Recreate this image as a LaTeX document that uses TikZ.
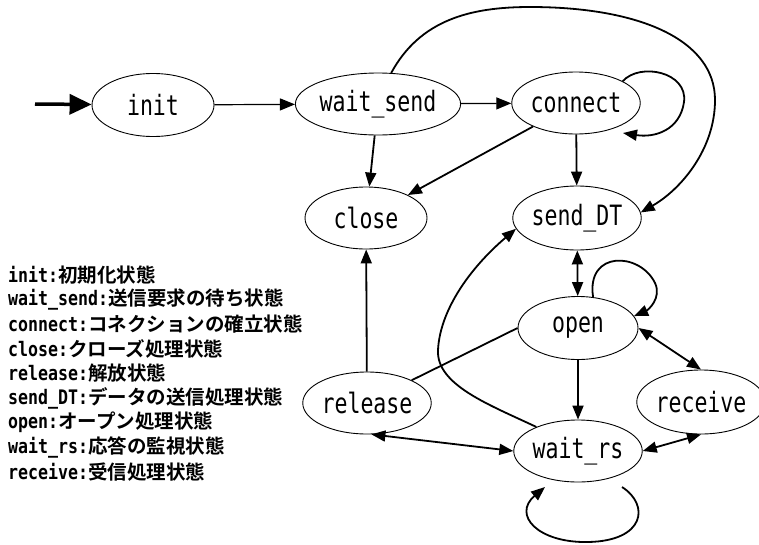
\documentclass[tikz,border=0pt]{standalone}
\usepackage{fontspec}
\usepackage{graphicx}
\usetikzlibrary{shapes.geometric,arrows.meta}
\newfontfamily\monof{DejaVu Sans Mono}
\newfontfamily\monobf{DejaVu Sans Mono Bold}
\newfontfamily\cjkf{Noto Sans CJK JP}[BoldFont=* Bold]
\newcommand\stlbl[1]{\scalebox{0.77}[1]{\fontsize{28}{30}\monof #1}}
\newcommand\legline[2]{\scalebox{0.83}[1]{\fontsize{20}{22}\monobf #1:}{\fontsize{19.5}{22}\cjkf\bfseries #2}}
\tikzset{
  st/.style={ellipse, draw, line width=0.9pt, inner sep=0pt, minimum width=122pt, minimum height=62pt},
  arr/.style={line width=1.8pt, -{Triangle[length=14pt,width=11pt]}},
  thinarr/.style={line width=1.2pt, -{Triangle[length=15pt,width=12pt]}},
  dbl/.style={line width=1.8pt, {Triangle[length=14pt,width=11pt]}-{Triangle[length=14pt,width=11pt]}},
  plain/.style={line width=1.8pt},
  startarr/.style={line width=3.5pt, -{Triangle[length=22pt,width=20pt]}},
  leg/.style={anchor=west, inner sep=0pt}
}
\begin{document}
\begin{tikzpicture}[x=1pt,y=-1pt]
\useasboundingbox (0,0) rectangle (759,544);
% states
\node[st, minimum height=63pt] (init) at (153,105) {\stlbl{init}};
\node[st, minimum width=146pt] (ws) at (378,104) {\stlbl{wait\_send}};
\node[st] (connect) at (576,103) {\stlbl{connect}};
\node[st] (close) at (366,218) {\stlbl{close}};
\node[st, minimum width=120pt, minimum height=64pt] (send) at (577,218) {\stlbl{send\_DT}};
\node[st, minimum width=120pt, minimum height=63pt] (open) at (578,328) {\stlbl{open}};
\node[st] (release) at (367,403) {\stlbl{release}};
\node[st, minimum width=120pt] (wrs) at (578,451) {\stlbl{wait\_rs}};
\node[st, minimum width=116pt, minimum height=64pt] (receive) at (701,402) {\stlbl{receive}};
% free ends
\coordinate (s0) at (35,104);
\coordinate (cl) at (623,133);
\coordinate (wl1) at (622,487);
\coordinate (wl2) at (545,487);
% straight connectors
\draw[startarr] (s0) -- (init);
\draw[thinarr] (init) -- (ws);
\draw[thinarr] (ws) -- (connect);
\draw[arr] (ws) -- (close);
\draw[arr] (connect) -- (close);
\draw[arr] (connect) -- (send);
\draw[arr] (release) -- (close);
\draw[dbl] (send) -- (open);
\draw[arr] (open) -- (wrs);
\draw[dbl] (open.east) -- (receive.north);
\draw[plain] (open.west) -- (release.27);
\draw[dbl] (release.-82) -- (wrs.west);
\draw[dbl] (wrs.east) -- (receive.south);
% curves
\draw[arr] (connect.25) .. controls (640,62) and (688,72) .. (684,102) .. controls (680,130) and (655,138) .. (cl);
\draw[arr] (ws.67) .. controls (420,20) and (470,7) .. (530,7) .. controls (640,7) and (715,40) .. (715,100) .. controls (715,150) and (680,190) .. (send.5);
\draw[arr] (wrs.150) .. controls (490,405) and (436,385) .. (438,350) .. controls (440,310) and (470,268) .. (send.190);
\draw[arr] (open.64) .. controls (586,250) and (640,252) .. (655,283) .. controls (662,298) and (648,310) .. (open.12);
\draw[arr] (wl1) .. controls (650,505) and (645,541) .. (588,542) .. controls (538,543) and (512,515) .. (wl2);
% legend
\node[leg] (l1) at (8,275) {\legline{init}{初期化状態}};
\node[leg] (l2) at (8,299.6) {\legline{wait\_send}{送信要求の待ち状態}};
\node[leg] (l3) at (8,324.2) {\legline{connect}{コネクションの確立状態}};
\node[leg] (l4) at (8,348.8) {\legline{close}{クローズ処理状態}};
\node[leg] (l5) at (8,373.4) {\legline{release}{解放状態}};
\node[leg] (l6) at (8,398) {\legline{send\_DT}{データの送信処理状態}};
\node[leg] (l7) at (8,422.6) {\legline{open}{オープン処理状態}};
\node[leg] (l8) at (8,447.2) {\legline{wait\_rs}{応答の監視状態}};
\node[leg] (l9) at (8,471.8) {\legline{receive}{受信処理状態}};
\end{tikzpicture}
\end{document}
